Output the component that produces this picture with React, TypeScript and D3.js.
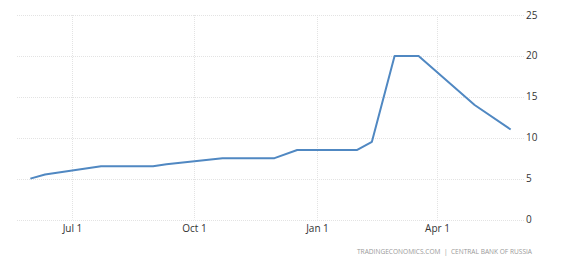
import React from "react";
import * as d3 from "d3";

const dates: string[] = [
  "2021-05-31", "2021-06-11", "2021-07-23", "2021-08-31", "2021-09-10",
  "2021-10-22", "2021-11-30", "2021-12-17", "2022-01-31", "2022-02-11",
  "2022-02-28", "2022-03-18", "2022-04-08", "2022-04-29", "2022-05-26",
];
const rates: number[] = [5, 5.5, 6.5, 6.5, 6.75, 7.5, 7.5, 8.5, 8.5, 9.5, 20, 20, 17, 14, 11];
const yTicks: number[] = [0, 5, 10, 15, 20, 25];
const xTickDates: string[] = ["2021-07-01", "2021-10-01", "2022-01-01", "2022-04-01"];
const xTickLabels: string[] = ["Jul 1", "Oct 1", "Jan 1", "Apr 1"];
const domainDates: string[] = ["2021-05-21", "2022-06-05"];
const footer = "TRADINGECONOMICS.COM  |  CENTRAL BANK OF RUSSIA";

const W = 565;
const H = 263;
const left = 17;
const right = 524;
const top = 15;
const bottom = 219.5;

export default function App() {
  const parse = d3.utcParse("%Y-%m-%d");
  const x = d3
    .scaleUtc()
    .domain(domainDates.map((d) => parse(d) as Date))
    .range([left, right]);
  const y = d3.scaleLinear().domain([0, 25]).range([bottom, top]);
  const data = dates.map((d, i) => ({ date: parse(d) as Date, v: rates[i] }));
  const line = d3
    .line<{ date: Date; v: number }>()
    .x((d) => x(d.date))
    .y((d) => y(d.v));

  return (
    <svg
      width={W}
      height={H}
      style={{ position: "absolute", left: 0, top: 0, background: "#fff" }}
      fontFamily="'Open Sans', 'DejaVu Sans', sans-serif"
    >
      {yTicks.map((t) => (
        <g key={"y" + t}>
          <line
            x1={left}
            x2={right}
            y1={Math.round(y(t)) + 0.5}
            y2={Math.round(y(t)) + 0.5}
            stroke="#e3e3e3"
            strokeWidth={1}
            strokeDasharray="1,1"
          />
          <text x={right + 2} y={y(t)} dy="0.35em" fontSize={10} fill="#333">
            {t}
          </text>
        </g>
      ))}
      {xTickDates.map((d, i) => {
        const xv = Math.round(x(parse(d) as Date)) + 0.5;
        return (
          <g key={"x" + d}>
            <line
              x1={xv}
              x2={xv}
              y1={top}
              y2={bottom}
              stroke="#e3e3e3"
              strokeWidth={1}
              strokeDasharray="1,1"
            />
            <text x={xv} y={232} textAnchor="middle" fontSize={10} fill="#333">
              {xTickLabels[i]}
            </text>
          </g>
        );
      })}
      <path
        d={line(data) || ""}
        fill="none"
        stroke="#5088c2"
        strokeWidth={2}
        strokeLinejoin="round"
      />
      <text
        x={357}
        y={254}
        fontSize={7}
        fill="#999"
        textLength={175}
        lengthAdjust="spacingAndGlyphs"
        style={{ whiteSpace: "pre" }}
      >
        {footer}
      </text>
    </svg>
  );
}
